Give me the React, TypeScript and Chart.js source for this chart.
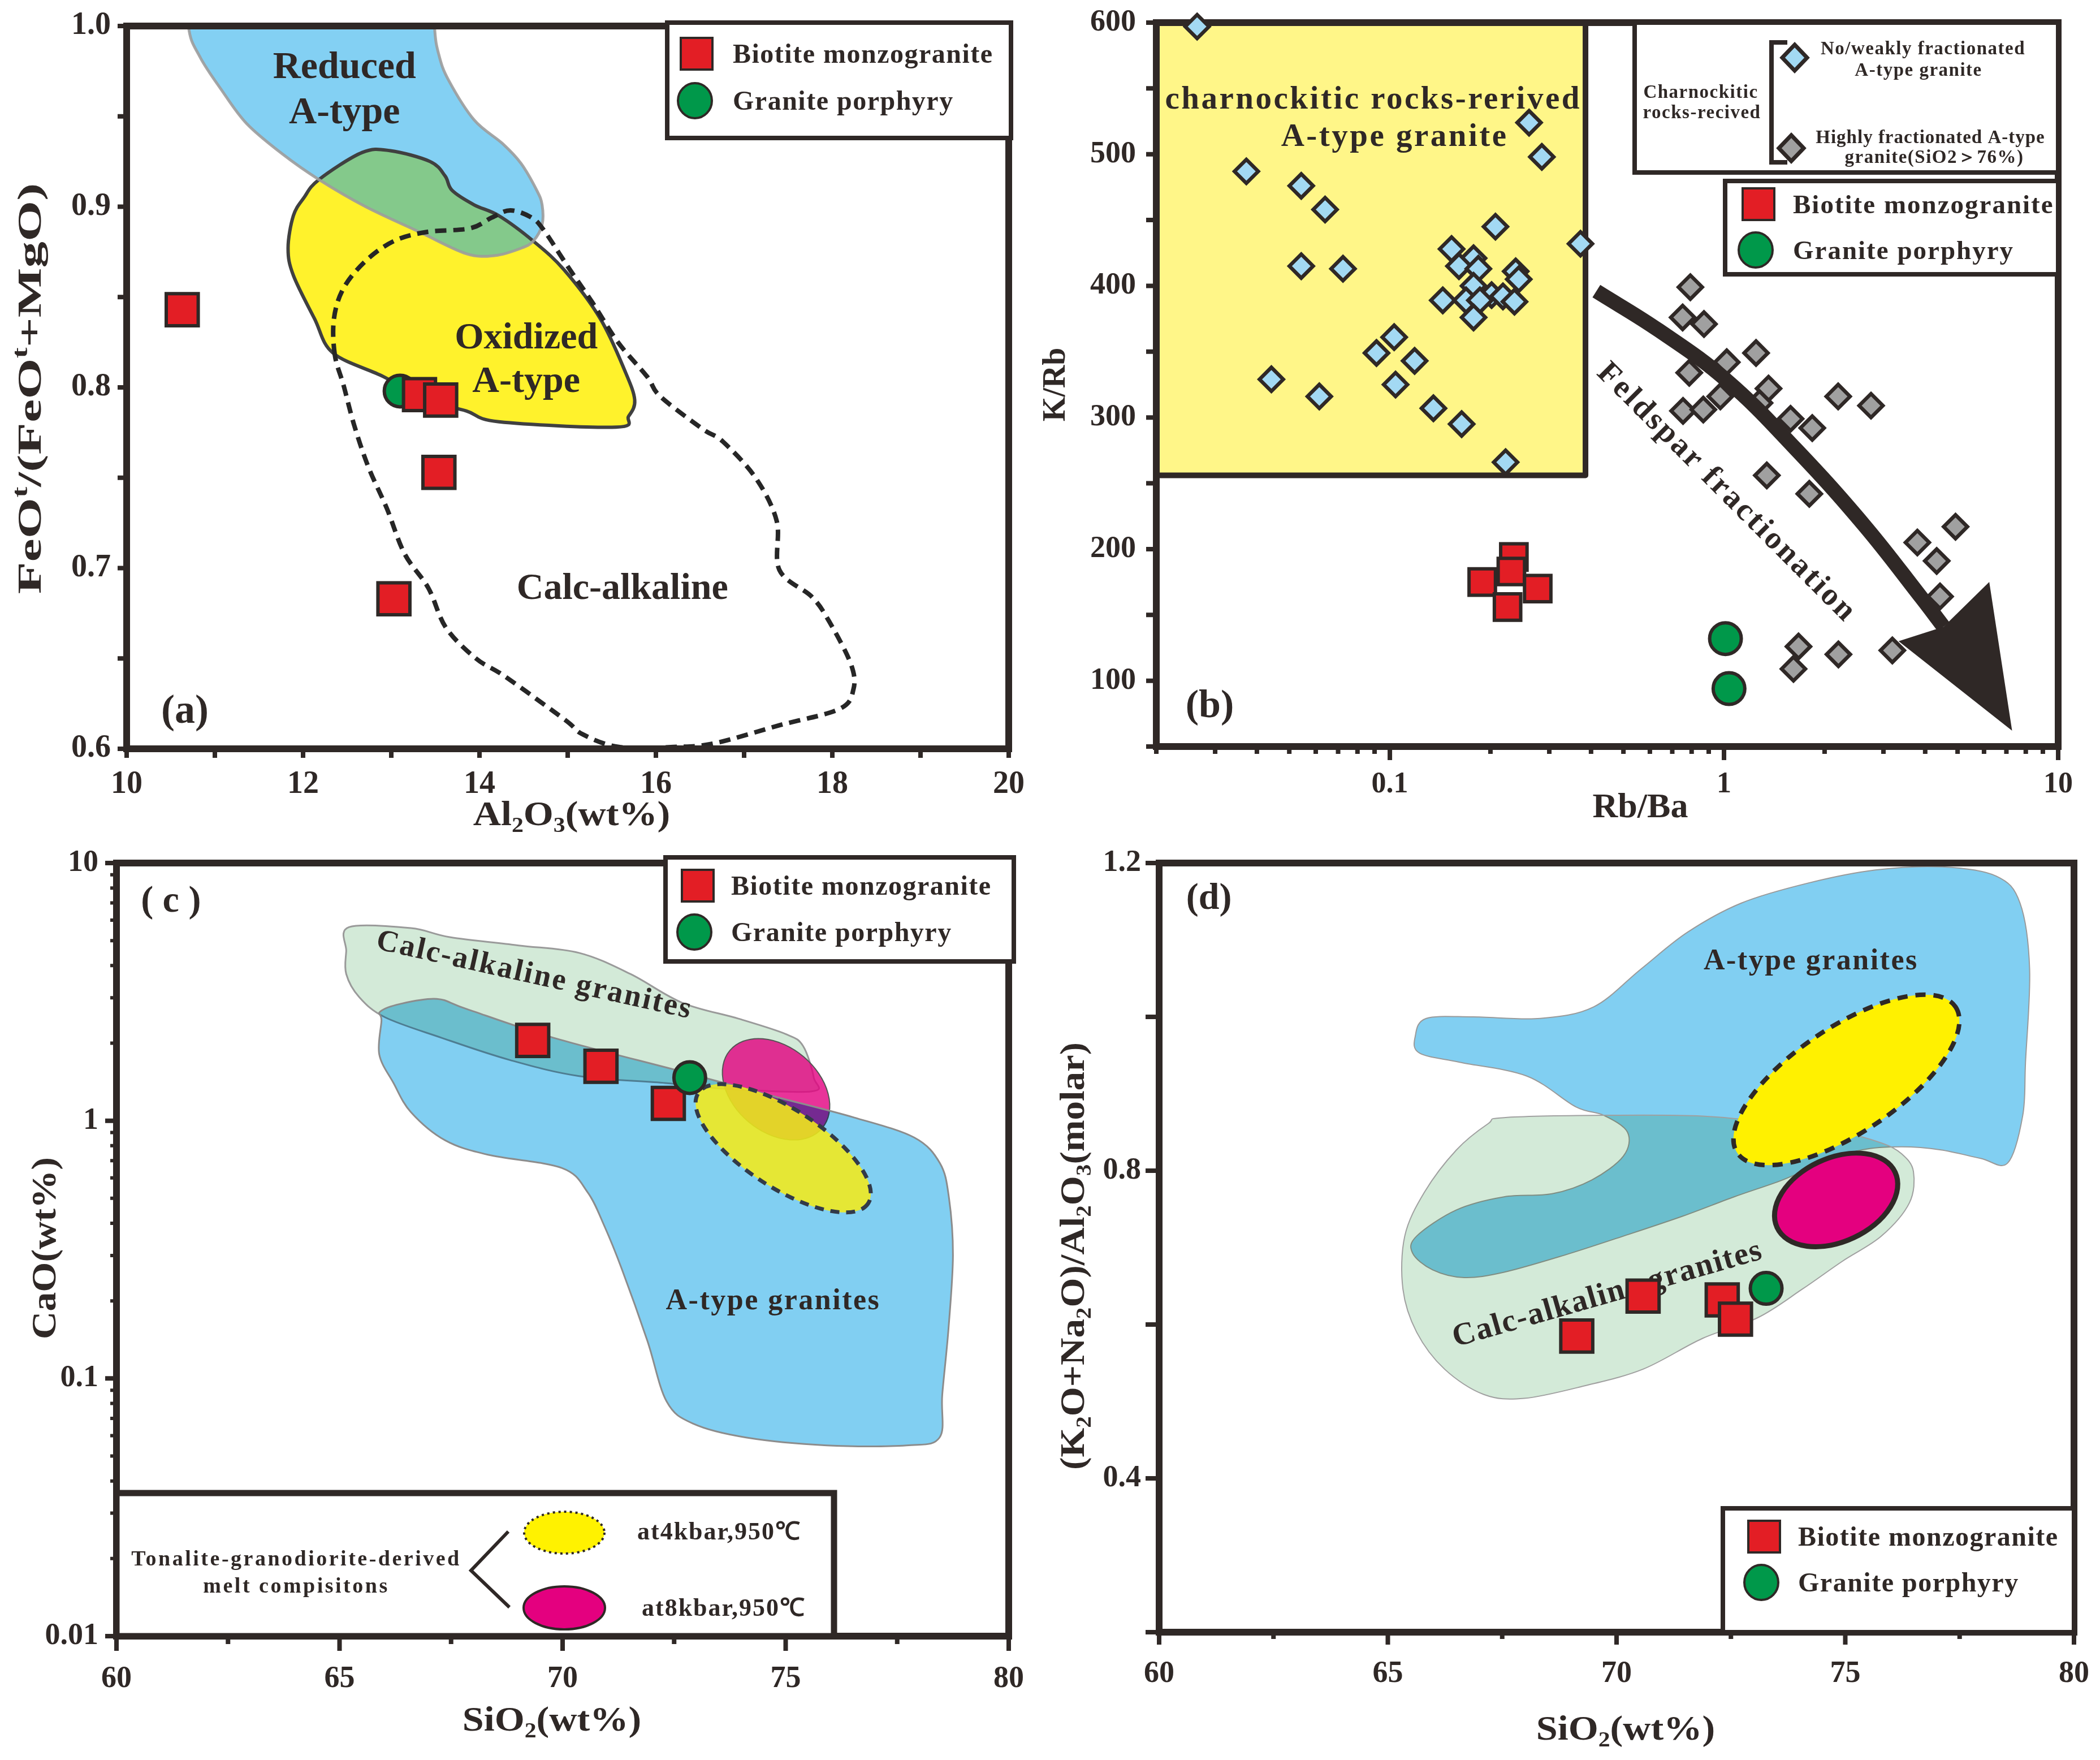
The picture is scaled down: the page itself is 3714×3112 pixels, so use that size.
import React, { useEffect, useRef } from 'react';
import { Chart, registerables } from 'chart.js';

Chart.register(...registerables);

type P = [number, number];

const FONT = "'Liberation Serif', 'Times New Roman', serif";
const INK = '#2f2826';
const RED = '#e31e25';
const GREEN = '#00984a';
const BLUE_FIELD = '#81cff2';
const GREEN_FIELD = '#d3ead8';

// ================= (a) FeOt/(FeOt+MgO) vs Al2O3 =================
const A_X_LABELS = [10, 12, 14, 16, 18, 20];
const A_Y_LABELS = [0.6, 0.7, 0.8, 0.9, 1.0];
const A_X_TICKS = [10, 11, 12, 13, 14, 15, 16, 17, 18, 19, 20];
const A_Y_TICKS = [0.6, 0.65, 0.7, 0.75, 0.8, 0.85, 0.9, 0.95, 1.0];
const A_BIOTITE_X = [10.63, 13.32, 13.56, 13.54, 13.03];
const A_BIOTITE_Y = [0.843, 0.796, 0.793, 0.753, 0.683];
const A_PORPHYRY_X = [13.1];
const A_PORPHYRY_Y = [0.798];
const A_REDUCED_FIELD: P[] = [
  [10.68, 1.04], [10.7, 1.0], [10.83, 0.983], [11.07, 0.965], [11.36, 0.946], [11.77, 0.929],
  [12.18, 0.915], [12.71, 0.9], [13.32, 0.886], [13.85, 0.874], [14.18, 0.873], [14.47, 0.877],
  [14.61, 0.881], [14.71, 0.89], [14.71, 0.901], [14.65, 0.909], [14.47, 0.924], [14.26, 0.935],
  [13.94, 0.948], [13.65, 0.97], [13.54, 0.984], [13.49, 1.0], [13.47, 1.04],
];
const A_OXIDIZED_FIELD: P[] = [
  [12.18, 0.915], [12.67, 0.93], [12.99, 0.931], [13.44, 0.925], [13.61, 0.917], [13.69, 0.909],
  [13.94, 0.901], [14.22, 0.895], [14.61, 0.881], [14.96, 0.865], [15.37, 0.838], [15.65, 0.809],
  [15.76, 0.793], [15.69, 0.784], [15.55, 0.778], [14.22, 0.781], [13.85, 0.787], [13.4, 0.793],
  [12.91, 0.806], [12.34, 0.819], [12.13, 0.838], [11.89, 0.862], [11.83, 0.877], [11.89, 0.895],
  [12.01, 0.905],
];
const A_CALC_FIELD: P[] = [
  [12.36, 0.818], [12.35, 0.838], [12.46, 0.855], [12.71, 0.87], [13.03, 0.881], [13.4, 0.886],
  [13.89, 0.888], [14.14, 0.894], [14.35, 0.898], [14.59, 0.894], [14.73, 0.887], [15.0, 0.867],
  [15.28, 0.847], [15.57, 0.825], [15.9, 0.806], [16.05, 0.795], [16.53, 0.777], [16.76, 0.77],
  [17.13, 0.75], [17.37, 0.726], [17.4, 0.699], [17.77, 0.684], [17.97, 0.67], [18.21, 0.647],
  [18.24, 0.633], [18.08, 0.622], [17.4, 0.613], [16.66, 0.603], [16.2, 0.601], [15.58, 0.601],
  [15.17, 0.608], [14.97, 0.616], [14.29, 0.64], [13.96, 0.65], [13.62, 0.667], [13.42, 0.689],
  [13.15, 0.708], [12.95, 0.733], [12.74, 0.756], [12.58, 0.779], [12.46, 0.801],
];

// ================= (b) K/Rb vs Rb/Ba =================
const B_X_LABELS = [0.1, 1, 10];
const B_Y_LABELS = [100, 200, 300, 400, 500, 600];
const B_X_TICKS_MAJOR = [0.1, 1, 10];
const B_X_TICKS_MINOR = [0.02, 0.03, 0.04, 0.05, 0.06, 0.07, 0.08, 0.09, 0.2, 0.3, 0.4, 0.5, 0.6, 0.7, 0.8, 0.9, 2, 3, 4, 5, 6, 7, 8, 9];
const B_Y_TICKS = [50, 100, 150, 200, 250, 300, 350, 400, 450, 500, 550, 600];
const B_WEAK_X = [0.0265, 0.0372, 0.0543, 0.064, 0.0543, 0.0724, 0.0442, 0.0615, 0.103, 0.0912, 0.1186, 0.104, 0.135, 0.164, 0.222, 0.261, 0.285, 0.207, 0.372, 0.153, 0.178, 0.161, 0.184, 0.238, 0.243, 0.178, 0.2016, 0.218, 0.144, 0.169, 0.236, 0.186, 0.178];
const B_WEAK_Y = [597, 487, 476, 458, 415, 413, 329, 316, 361, 349, 343, 325, 307, 295, 266, 524, 498, 445, 432, 428, 421, 415, 413, 411, 405, 400, 393, 392, 389, 389, 388, 389, 376];
const B_HIGH_X = [0.793, 0.752, 0.871, 1.247, 1.019, 0.787, 1.359, 0.975, 1.277, 2.196, 2.754, 0.754, 0.867, 1.582, 1.837, 1.343, 1.8, 4.93, 3.79, 4.33, 4.43, 1.671, 2.2, 3.19, 1.614];
const B_HIGH_Y = [399, 376, 371, 349, 342, 334, 322, 316, 311, 316, 309, 305, 306, 299, 292, 256, 242, 217, 205, 191, 164, 126, 120, 123, 109];
const B_BIOTITE_X = [0.235, 0.231, 0.189, 0.277, 0.225];
const B_BIOTITE_Y = [194, 183, 175, 170, 156];
const B_PORPHYRY_X = [1.01, 1.035];
const B_PORPHYRY_Y = [132, 94];
const B_CHARNO_FIELD: P[] = [[0.02, 600], [0.385, 600], [0.385, 256], [0.02, 256]];
const B_ARROW_X = [0.415, 0.64, 1.02, 1.64, 2.63, 3.9, 4.54];
const B_ARROW_Y = [396, 366, 328, 276, 218, 163, 141];
const B_ARROW_HEAD: P[] = [[3.33, 130], [4.54, 141], [6.22, 175], [7.28, 62]];

// ================= (c) CaO vs SiO2 =================
const C_X_LABELS = [60, 65, 70, 75, 80];
const C_Y_LABELS = [0.01, 0.1, 1, 10];
const C_X_TICKS_MAJOR = [60, 65, 70, 75, 80];
const C_X_TICKS_MINOR = [62.5, 67.5, 72.5, 77.5];
const C_Y_TICKS_MAJOR = [0.01, 0.1, 1, 10];
const C_Y_TICKS_MINOR = [0.02, 0.03, 0.04, 0.05, 0.06, 0.07, 0.08, 0.09, 0.2, 0.3, 0.4, 0.5, 0.6, 0.7, 0.8, 0.9, 2, 3, 4, 5, 6, 7, 8, 9];
const C_BIOTITE_X = [69.33, 70.86, 72.37];
const C_BIOTITE_Y = [2.05, 1.627, 1.168];
const C_PORPHYRY_X = [72.85];
const C_PORPHYRY_Y = [1.47];
const C_CALC_FIELD: P[] = [
  [65.21, 5.64], [66.6, 5.59], [67.47, 5.16], [69.01, 4.79], [70.37, 4.48], [71.52, 3.71],
  [72.68, 2.87], [73.94, 2.49], [75.0, 2.17], [75.39, 1.95], [75.63, 1.47], [75.58, 1.3],
  [73.65, 1.33], [72.3, 1.4], [70.37, 1.49], [68.82, 1.72], [67.28, 2.1], [66.02, 2.52],
  [65.44, 3.02], [65.15, 3.71], [65.15, 4.55],
];
const C_ATYPE_FIELD: P[] = [
  [65.94, 2.45], [65.91, 2.65], [66.36, 2.84], [67.18, 2.97], [67.86, 2.71], [69.79, 2.1],
  [72.68, 1.55], [74.61, 1.26], [76.53, 1.03], [77.88, 0.861], [78.46, 0.683], [78.66, 0.503],
  [78.75, 0.301], [78.65, 0.156], [78.51, 0.0865], [78.45, 0.059], [77.71, 0.055], [75.92, 0.055],
  [74.11, 0.059], [72.93, 0.0667], [72.33, 0.0815], [71.9, 0.14], [71.33, 0.265], [70.94, 0.389],
  [70.56, 0.528], [69.98, 0.656], [68.34, 0.737], [67.37, 0.839], [66.6, 1.08], [66.21, 1.4],
  [65.89, 1.81],
];
// ellipse = two ends of the major axis + one end of the minor axis
const C_MELT_8KBAR: P[] = [[73.75, 1.873], [75.82, 0.937], [74.17, 0.99]];
const C_MELT_4KBAR: P[] = [[73.04, 1.279], [76.85, 0.478], [74.47, 0.582]];

// ================= (d) (K2O+Na2O)/Al2O3 vs SiO2 =================
const D_X_LABELS = [60, 65, 70, 75, 80];
const D_Y_LABELS = [0.4, 0.8, 1.2];
const D_X_TICKS_MAJOR = [60, 65, 70, 75, 80];
const D_X_TICKS_MINOR = [62.5, 67.5, 72.5, 77.5];
const D_Y_TICKS = [0.2, 0.4, 0.6, 0.8, 1.0, 1.2];
const D_BIOTITE_X = [69.13, 70.58, 72.31, 72.6];
const D_BIOTITE_Y = [0.585, 0.637, 0.632, 0.607];
const D_PORPHYRY_X = [73.27];
const D_PORPHYRY_Y = [0.647];
const D_ATYPE_FIELD: P[] = [
  [65.6, 0.975], [65.84, 0.998], [66.86, 1.0], [68.33, 0.998], [69.5, 1.013], [70.53, 1.062],
  [71.55, 1.11], [72.73, 1.148], [74.19, 1.174], [75.66, 1.191], [77.12, 1.195], [78.3, 1.183],
  [78.82, 1.148], [79.03, 1.062], [78.94, 0.941], [78.88, 0.872], [78.55, 0.81], [77.96, 0.816],
  [77.09, 0.827], [76.23, 0.831], [75.36, 0.827], [74.49, 0.81], [73.63, 0.788], [72.57, 0.766],
  [71.45, 0.741], [70.15, 0.715], [68.85, 0.69], [67.54, 0.668], [66.67, 0.661], [65.98, 0.671],
  [65.54, 0.693], [65.63, 0.715], [66.5, 0.749], [67.54, 0.766], [68.59, 0.77], [69.46, 0.788],
  [70.15, 0.819], [70.24, 0.85], [69.72, 0.872], [69.11, 0.883], [68.04, 0.923], [66.57, 0.941],
  [65.69, 0.953],
];
const D_CALC_FIELD: P[] = [
  [67.19, 0.861], [67.54, 0.869], [69.72, 0.872], [71.88, 0.871], [73.63, 0.861], [74.93, 0.85],
  [75.79, 0.836], [76.23, 0.822], [76.49, 0.799], [76.4, 0.758], [75.79, 0.715], [74.93, 0.682],
  [74.06, 0.646], [73.09, 0.609], [71.88, 0.582], [70.58, 0.542], [69.28, 0.52], [67.98, 0.504],
  [67.1, 0.509], [66.24, 0.542], [65.63, 0.59], [65.33, 0.646], [65.37, 0.715], [65.8, 0.772],
  [66.5, 0.827],
];
const D_MELT_4KBAR: P[] = [[72.64, 0.823], [77.41, 1.013], [75.67, 0.861]];
const D_MELT_8KBAR: P[] = [[73.51, 0.726], [76.09, 0.798], [75.19, 0.713]];

// ================= drawing helpers =================
function toPx(chart: any, p: P): [number, number] {
  return [chart.scales.x.getPixelForValue(p[0]), chart.scales.y.getPixelForValue(p[1])];
}

function tracePath(ctx: CanvasRenderingContext2D, p: number[][], s: number) {
  const n = p.length;
  ctx.moveTo(p[0][0], p[0][1]);
  for (let i = 0; i < n; i++) {
    const p0 = p[(i - 1 + n) % n], p1 = p[i], p2 = p[(i + 1) % n], p3 = p[(i + 2) % n];
    if (s <= 0) { ctx.lineTo(p2[0], p2[1]); continue; }
    const c1x = p1[0] + ((p2[0] - p0[0]) * s) / 6, c1y = p1[1] + ((p2[1] - p0[1]) * s) / 6;
    const c2x = p2[0] - ((p3[0] - p1[0]) * s) / 6, c2y = p2[1] - ((p3[1] - p1[1]) * s) / 6;
    ctx.bezierCurveTo(c1x, c1y, c2x, c2y, p2[0], p2[1]);
  }
  ctx.closePath();
}

function drawRegion(chart: any, it: any) {
  const ctx = chart.ctx as CanvasRenderingContext2D;
  const s = it.smooth ?? 1;
  ctx.save();
  if (it.clipTo) {
    ctx.beginPath();
    tracePath(ctx, it.clipTo.map((q: P) => toPx(chart, q)), s);
    ctx.clip();
  }
  ctx.beginPath();
  tracePath(ctx, it.pts.map((q: P) => toPx(chart, q)), s);
  if (it.fill) {
    ctx.globalAlpha = it.alpha ?? 1;
    ctx.globalCompositeOperation = it.op ?? 'source-over';
    ctx.fillStyle = it.fill;
    ctx.fill();
    ctx.globalAlpha = 1;
    ctx.globalCompositeOperation = 'source-over';
  }
  if (it.stroke) {
    ctx.globalAlpha = it.strokeAlpha ?? 1;
    ctx.setLineDash(it.dash ?? []);
    ctx.lineWidth = it.lw ?? 3;
    ctx.lineJoin = 'round';
    ctx.strokeStyle = it.stroke;
    ctx.stroke();
  }
  ctx.restore();
}

function drawEllipse(chart: any, it: any) {
  const ctx = chart.ctx as CanvasRenderingContext2D;
  const [x1, y1] = toPx(chart, it.e[0]);
  const [x2, y2] = toPx(chart, it.e[1]);
  const [bx, by] = toPx(chart, it.e[2]);
  const cx = (x1 + x2) / 2, cy = (y1 + y2) / 2;
  const rx = Math.hypot(x2 - x1, y2 - y1) / 2;
  const ry = Math.hypot(bx - cx, by - cy);
  const rot = Math.atan2(y2 - y1, x2 - x1);
  ctx.save();
  ctx.beginPath();
  ctx.ellipse(cx, cy, rx, ry, rot, 0, Math.PI * 2);
  if (it.fill) {
    ctx.globalAlpha = it.alpha ?? 1;
    ctx.fillStyle = it.fill;
    ctx.fill();
    ctx.globalAlpha = 1;
  }
  if (it.stroke) {
    ctx.setLineDash(it.dash ?? []);
    ctx.lineWidth = it.lw ?? 3;
    ctx.strokeStyle = it.stroke;
    ctx.stroke();
  }
  ctx.restore();
}

function parseRich(s: string) {
  const out: { t: string; k: string }[] = [];
  const re = /([_^])\{([^}]*)\}/g;
  let last = 0;
  let m: RegExpExecArray | null;
  while ((m = re.exec(s))) {
    if (m.index > last) out.push({ t: s.slice(last, m.index), k: 'n' });
    out.push({ t: m[2], k: m[1] === '_' ? 'sub' : 'sup' });
    last = re.lastIndex;
  }
  if (last < s.length) out.push({ t: s.slice(last), k: 'n' });
  return out;
}

function drawText(chart: any, spec: any, t: any) {
  const ctx = chart.ctx as CanvasRenderingContext2D;
  let x: number, y: number;
  if (t.data) [x, y] = toPx(chart, [t.x, t.y]);
  else { x = t.x - spec.ox; y = t.y - spec.oy; }
  ctx.save();
  ctx.translate(x, y);
  if (t.rot) ctx.rotate((t.rot * Math.PI) / 180);
  if (t.sx) ctx.scale(t.sx, 1);
  const segs = parseRich(t.t);
  const w = t.weight ?? 'bold';
  (ctx as any).letterSpacing = `${t.spacing ?? 0}px`;
  const fontFor = (k: string) => `${w} ${k === 'n' ? t.size : Math.round(t.size * 0.62)}px ${FONT}`;
  const widths = segs.map((sg) => { ctx.font = fontFor(sg.k); return ctx.measureText(sg.t).width; });
  const total = widths.reduce((a, b) => a + b, 0);
  let cx = t.align === 'left' ? 0 : t.align === 'right' ? -total : -total / 2;
  ctx.fillStyle = t.color ?? INK;
  ctx.textAlign = 'left';
  ctx.textBaseline = 'alphabetic';
  const base = t.size * 0.34;
  segs.forEach((sg, i) => {
    ctx.font = fontFor(sg.k);
    const dy = sg.k === 'sub' ? t.size * 0.2 : sg.k === 'sup' ? -t.size * 0.4 : 0;
    ctx.fillText(sg.t, cx, base + dy);
    cx += widths[i];
  });
  ctx.restore();
}

function drawMark(ctx: CanvasRenderingContext2D, m: any, ox: number, oy: number) {
  const x = m.x - ox, y = m.y - oy;
  ctx.save();
  ctx.beginPath();
  if (m.shape === 'square') ctx.rect(x - m.rx, y - m.ry, 2 * m.rx, 2 * m.ry);
  else if (m.shape === 'diamond') {
    ctx.moveTo(x, y - m.ry); ctx.lineTo(x + m.rx, y); ctx.lineTo(x, y + m.ry); ctx.lineTo(x - m.rx, y); ctx.closePath();
  } else ctx.ellipse(x, y, m.rx, m.ry, 0, 0, Math.PI * 2);
  ctx.fillStyle = m.fill;
  ctx.fill();
  ctx.setLineDash(m.dash ?? []);
  ctx.lineWidth = m.lw ?? 4;
  ctx.strokeStyle = m.stroke ?? INK;
  ctx.stroke();
  ctx.restore();
}

function drawLegend(chart: any, spec: any, L: any) {
  const ctx = chart.ctx as CanvasRenderingContext2D;
  const ox = spec.ox, oy = spec.oy;
  ctx.save();
  if (L.box) {
    const [x1, y1, x2, y2] = L.box;
    ctx.fillStyle = '#ffffff';
    ctx.fillRect(x1 - ox, y1 - oy, x2 - x1, y2 - y1);
    ctx.strokeStyle = INK;
    ctx.lineWidth = L.lw ?? 8;
    ctx.strokeRect(x1 - ox, y1 - oy, x2 - x1, y2 - y1);
  }
  (L.lines ?? []).forEach((ln: any) => {
    ctx.beginPath();
    ln.pts.forEach(([x, y]: P, i: number) => (i ? ctx.lineTo(x - ox, y - oy) : ctx.moveTo(x - ox, y - oy)));
    ctx.lineWidth = ln.lw;
    ctx.strokeStyle = INK;
    ctx.lineJoin = 'miter';
    ctx.stroke();
  });
  (L.marks ?? []).forEach((m: any) => drawMark(ctx, m, ox, oy));
  ctx.restore();
  (L.texts ?? []).forEach((t: any) => drawText(chart, spec, t));
}

function drawItem(chart: any, spec: any, it: any) {
  if (it.kind === 'region') drawRegion(chart, it);
  else if (it.kind === 'ellipse') drawEllipse(chart, it);
  else if (it.kind === 'text') drawText(chart, spec, it);
  else if (it.kind === 'legend') drawLegend(chart, spec, it);
}

function drawFrame(chart: any, spec: any) {
  const ctx = chart.ctx as CanvasRenderingContext2D;
  const a = chart.chartArea;
  ctx.save();
  ctx.strokeStyle = INK;
  ctx.lineCap = 'butt';
  spec.ticks.forEach((tk: any) => {
    const sc = chart.scales[tk.axis];
    ctx.lineWidth = tk.lw ?? 8;
    ctx.beginPath();
    tk.values.forEach((v: number) => {
      const p = sc.getPixelForValue(v);
      if (tk.axis === 'x') { ctx.moveTo(p, a.bottom); ctx.lineTo(p, a.bottom + tk.len); }
      else { ctx.moveTo(a.left, p); ctx.lineTo(a.left - tk.len, p); }
    });
    ctx.stroke();
  });
  ctx.lineWidth = 12;
  ctx.strokeRect(a.left, a.top, a.right - a.left, a.bottom - a.top);
  ctx.restore();
}

function makeDecor(spec: any) {
  return {
    id: 'decor',
    beforeDatasetsDraw(chart: any) {
      const ctx = chart.ctx as CanvasRenderingContext2D;
      const a = chart.chartArea;
      ctx.save();
      ctx.beginPath();
      ctx.rect(a.left, a.top, a.right - a.left, a.bottom - a.top);
      ctx.clip();
      spec.under.forEach((it: any) => drawItem(chart, spec, it));
      ctx.restore();
      drawFrame(chart, spec);
      spec.titles.forEach((t: any) => drawText(chart, spec, t));
    },
    afterDatasetsDraw(chart: any) {
      spec.over.forEach((it: any) => drawItem(chart, spec, it));
    },
  };
}

function xy(xs: number[], ys: number[]) {
  return xs.map((x, i) => ({ x, y: ys[i] }));
}

function markerSet(label: string, xs: number[], ys: number[], style: string, r: number, fill: string, bw = 6) {
  return {
    label,
    data: xy(xs, ys),
    pointStyle: style,
    pointRadius: r,
    pointHoverRadius: r,
    pointBackgroundColor: fill,
    pointBorderColor: INK,
    pointBorderWidth: bw,
    backgroundColor: fill,
    borderColor: INK,
    showLine: false,
    clip: false,
  };
}

function axisOpts(a: any, horizontal: boolean) {
  return {
    type: a.type,
    min: a.min,
    max: a.max,
    bounds: 'data',
    afterBuildTicks: (s: any) => { s.ticks = a.labels.map((v: number) => ({ value: v })); },
    afterFit: (s: any) => {
      if (horizontal) s.height = a.size; else s.width = a.size;
      s.paddingLeft = 0; s.paddingRight = 0; s.paddingTop = 0; s.paddingBottom = 0;
    },
    grid: { display: false, drawTicks: false },
    border: { display: false },
    ticks: {
      autoSkip: false,
      maxRotation: 0,
      minRotation: 0,
      padding: a.pad,
      color: INK,
      font: { family: FONT, size: a.font, weight: 'bold' },
      callback: (v: any) => a.fmt(Number(v)),
    },
  };
}

const legendPair = (box: number[], sq: P, cir: P, tx: number, size: number, spacing: number, lw = 8) => ({
  kind: 'legend',
  box,
  lw,
  marks: [
    { shape: 'square', x: sq[0], y: sq[1], rx: 28, ry: 28, fill: RED, lw: 4 },
    { shape: 'circle', x: cir[0], y: cir[1], rx: 30, ry: 31, fill: GREEN, lw: 4 },
  ],
  texts: [
    { t: 'Biotite monzogranite', x: tx, y: sq[1], size, spacing, align: 'left' },
    { t: 'Granite porphyry', x: tx, y: cir[1], size, spacing, align: 'left' },
  ],
});

// ================= panel specs =================
const SPEC_A = {
  id: 'a', ox: 0, oy: 0, w: 1830, h: 1480,
  padding: { left: 0, top: 41, right: 46, bottom: 56 },
  x: { type: 'linear', min: 10, max: 20, labels: A_X_LABELS, size: 100, pad: 30, font: 56, fmt: (v: number) => String(v) },
  y: { type: 'linear', min: 0.6, max: 1.0, labels: A_Y_LABELS, size: 224, pad: 28, font: 56, fmt: (v: number) => v.toFixed(1) },
  datasets: [
    markerSet('Biotite monzogranite', A_BIOTITE_X, A_BIOTITE_Y, 'rect', 40, RED),
    markerSet('Granite porphyry', A_PORPHYRY_X, A_PORPHYRY_Y, 'circle', 28, GREEN),
  ],
  ticks: [
    { axis: 'x', values: A_X_TICKS, len: 16 },
    { axis: 'y', values: A_Y_TICKS, len: 16 },
  ],
  under: [
    { kind: 'region', pts: A_REDUCED_FIELD, fill: '#83d0f3' },
    { kind: 'region', pts: A_OXIDIZED_FIELD, fill: '#fff22c' },
    { kind: 'region', pts: A_REDUCED_FIELD, clipTo: A_OXIDIZED_FIELD, fill: '#84c98b' },
    { kind: 'region', pts: A_OXIDIZED_FIELD, stroke: '#404040', lw: 6 },
    { kind: 'region', pts: A_REDUCED_FIELD, stroke: '#9c9c9c', lw: 5, strokeAlpha: 0.9 },
    { kind: 'region', pts: A_CALC_FIELD, stroke: '#262626', lw: 8, dash: [20, 12] },
    { kind: 'text', t: 'Reduced', x: 12.47, y: 0.9785, data: true, size: 68 },
    { kind: 'text', t: 'A-type', x: 12.47, y: 0.9535, data: true, size: 68 },
    { kind: 'text', t: 'Oxidized', x: 14.53, y: 0.8285, data: true, size: 66 },
    { kind: 'text', t: 'A-type', x: 14.53, y: 0.8045, data: true, size: 66 },
    { kind: 'text', t: 'Calc-alkaline', x: 15.62, y: 0.69, data: true, size: 66 },
    { kind: 'text', t: '(a)', x: 10.66, y: 0.622, data: true, size: 72 },
  ],
  titles: [
    { t: 'Al_{2}O_{3}(wt%)', x: 1011, y: 1438, size: 62, sx: 1.1 },
    { t: 'FeO^{t}/(FeO^{t}+MgO)', x: 52, y: 687, size: 60, rot: -90, sx: 1.55 },
  ],
  over: [legendPair([1180, 40, 1788, 244], [1232, 95], [1229, 178], 1296, 48, 1.5)],
};

const SPEC_B = {
  id: 'b', ox: 1830, oy: 0, w: 1884, h: 1480,
  padding: { left: 0, top: 40, right: 74, bottom: 60 },
  x: { type: 'logarithmic', min: 0.02, max: 10, labels: B_X_LABELS, size: 100, pad: 36, font: 52, fmt: (v: number) => (v < 1 ? v.toFixed(1) : String(v)) },
  y: { type: 'linear', min: 50, max: 600, labels: B_Y_LABELS, size: 215, pad: 36, font: 54, fmt: (v: number) => String(v) },
  datasets: [
    markerSet('Granite porphyry', B_PORPHYRY_X, B_PORPHYRY_Y, 'circle', 28, GREEN),
    markerSet('Biotite monzogranite', B_BIOTITE_X, B_BIOTITE_Y, 'rect', 33, RED),
    {
      label: 'Feldspar fractionation',
      data: xy(B_ARROW_X, B_ARROW_Y),
      showLine: true,
      pointRadius: 0,
      borderColor: INK,
      borderWidth: 26,
      tension: 0.4,
      fill: false,
      clip: false,
    },
    markerSet('Highly fractionated A-type granite', B_HIGH_X, B_HIGH_Y, 'rectRot', 21, '#a0a0a0', 6.5),
    markerSet('No/weakly fractionated A-type granite', B_WEAK_X, B_WEAK_Y, 'rectRot', 21, '#a3d9f3', 6.5),
  ],
  ticks: [
    { axis: 'x', values: B_X_TICKS_MAJOR, len: 24 },
    { axis: 'x', values: B_X_TICKS_MINOR, len: 13 },
    { axis: 'y', values: B_Y_TICKS, len: 18 },
  ],
  under: [
    { kind: 'region', pts: B_CHARNO_FIELD, fill: '#fff688', smooth: 0 },
    { kind: 'text', t: 'charnockitic rocks-rerived', x: 0.0892, y: 543, data: true, size: 57, spacing: 3.5 },
    { kind: 'text', t: 'A-type granite', x: 0.1034, y: 514.5, data: true, size: 57, spacing: 3.5 },
    { kind: 'region', pts: B_CHARNO_FIELD, stroke: INK, lw: 10, smooth: 0 },
    { kind: 'text', t: '(b)', x: 0.0289, y: 82.6, data: true, size: 70 },
  ],
  titles: [
    { t: 'K/Rb', x: 1864, y: 680, size: 56, rot: -90 },
    { t: 'Rb/Ba', x: 2901, y: 1424, size: 62 },
  ],
  over: [
    { kind: 'region', pts: B_ARROW_HEAD, fill: INK, smooth: 0 },
    { kind: 'text', t: 'Feldspar fractionation', x: 1.03, y: 244, data: true, size: 56, rot: 45, spacing: 4 },
    {
      kind: 'legend',
      box: [2891, 40, 3640, 305],
      lw: 8,
      lines: [{ pts: [[3161, 75], [3133, 75], [3133, 287], [3161, 287]], lw: 8 }],
      marks: [
        { shape: 'diamond', x: 3174, y: 102, rx: 22, ry: 23, fill: '#a3d9f3', lw: 7 },
        { shape: 'diamond', x: 3168, y: 262, rx: 22, ry: 23, fill: '#a0a0a0', lw: 7 },
      ],
      texts: [
        { t: 'Charnockitic', x: 3008, y: 162, size: 33, spacing: 1.5 },
        { t: 'rocks-recived', x: 3010, y: 198, size: 33, spacing: 1.5 },
        { t: 'No/weakly fractionated', x: 3401, y: 85, size: 33, spacing: 1.5 },
        { t: 'A-type granite', x: 3393, y: 123, size: 33, spacing: 1.5 },
        { t: 'Highly fractionated A-type', x: 3414, y: 242, size: 33, spacing: 1.0 },
        { t: 'granite(SiO2＞76%)', x: 3421, y: 277, size: 33, spacing: 1.5 },
      ],
    },
    legendPair([3051, 320, 3640, 485], [3110, 361], [3105, 442], 3171, 47, 2),
  ],
};

const SPEC_C = {
  id: 'c', ox: 0, oy: 1480, w: 1830, h: 1632,
  padding: { left: 0, top: 36, right: 37, bottom: 119 },
  x: { type: 'linear', min: 60, max: 80, labels: C_X_LABELS, size: 100, pad: 44, font: 54, fmt: (v: number) => String(v) },
  y: { type: 'logarithmic', min: 0.01, max: 10, labels: C_Y_LABELS, size: 206, pad: 32, font: 54, fmt: (v: number) => String(v) },
  datasets: [
    markerSet('Granite porphyry', C_PORPHYRY_X, C_PORPHYRY_Y, 'circle', 28, GREEN),
    markerSet('Biotite monzogranite', C_BIOTITE_X, C_BIOTITE_Y, 'rect', 40, RED),
  ],
  ticks: [
    { axis: 'x', values: C_X_TICKS_MAJOR, len: 26 },
    { axis: 'x', values: C_X_TICKS_MINOR, len: 14 },
    { axis: 'y', values: C_Y_TICKS_MAJOR, len: 20 },
    { axis: 'y', values: C_Y_TICKS_MINOR, len: 11, lw: 6 },
  ],
  under: [
    { kind: 'region', pts: C_CALC_FIELD, fill: GREEN_FIELD, stroke: '#9a9a9a', lw: 3 },
    { kind: 'ellipse', e: C_MELT_8KBAR, fill: '#e2007f', alpha: 0.8, stroke: '#555', lw: 2 },
    { kind: 'region', pts: C_ATYPE_FIELD, fill: BLUE_FIELD, op: 'multiply', stroke: '#8c8c8c', lw: 3 },
    { kind: 'ellipse', e: C_MELT_4KBAR, fill: '#f3ea1a', alpha: 0.88, stroke: '#333a48', lw: 7, dash: [16, 12] },
    { kind: 'text', t: 'Calc-alkaline granites', x: 69.38, y: 3.73, data: true, size: 54, rot: 12.5, spacing: 3 },
    { kind: 'text', t: 'A-type granites', x: 74.72, y: 0.2027, data: true, size: 52, spacing: 2.5 },
    { kind: 'text', t: '( c )', x: 61.22, y: 7.25, data: true, size: 66 },
  ],
  titles: [
    { t: 'SiO_{2}(wt%)', x: 976, y: 3039, size: 62, sx: 1.1 },
    { t: 'CaO(wt%)', x: 77, y: 2207, size: 62, rot: -90, sx: 1.1 },
  ],
  over: [
    legendPair([1177, 1516, 1793, 1700], [1234, 1566], [1228, 1648], 1293, 48, 1.5),
    {
      kind: 'legend',
      box: [206, 2640, 1475, 2893],
      lw: 11,
      lines: [{ pts: [[899, 2708], [833, 2777], [901, 2842]], lw: 6 }],
      marks: [
        { shape: 'ellipse', x: 998, y: 2710, rx: 71, ry: 37, fill: '#fff200', lw: 4, dash: [4, 6] },
        { shape: 'ellipse', x: 998, y: 2843, rx: 72, ry: 38, fill: '#e4007f', lw: 4 },
      ],
      texts: [
        { t: 'Tonalite-granodiorite-derived', x: 524, y: 2755, size: 38, spacing: 3.5 },
        { t: 'melt compisitons', x: 524, y: 2803, size: 38, spacing: 3.5 },
        { t: 'at4kbar,950℃', x: 1127, y: 2707, size: 44, spacing: 2, align: 'left' },
        { t: 'at8kbar,950℃', x: 1135, y: 2842, size: 44, spacing: 2, align: 'left' },
      ],
    },
  ],
};

const SPEC_D = {
  id: 'd', ox: 1830, oy: 1480, w: 1884, h: 1632,
  padding: { left: 0, top: 36, right: 46, bottom: 126 },
  x: { type: 'linear', min: 60, max: 80, labels: D_X_LABELS, size: 100, pad: 42, font: 54, fmt: (v: number) => String(v) },
  y: { type: 'linear', min: 0.2, max: 1.2, labels: D_Y_LABELS, size: 220, pad: 32, font: 54, fmt: (v: number) => v.toFixed(1) },
  datasets: [
    markerSet('Granite porphyry', D_PORPHYRY_X, D_PORPHYRY_Y, 'circle', 28, GREEN),
    markerSet('Biotite monzogranite', D_BIOTITE_X, D_BIOTITE_Y, 'rect', 40, RED),
  ],
  ticks: [
    { axis: 'x', values: D_X_TICKS_MAJOR, len: 22 },
    { axis: 'x', values: D_X_TICKS_MINOR, len: 12 },
    { axis: 'y', values: D_Y_TICKS, len: 24 },
  ],
  under: [
    { kind: 'region', pts: D_ATYPE_FIELD, fill: BLUE_FIELD, stroke: '#9a9a9a', lw: 2 },
    { kind: 'region', pts: D_CALC_FIELD, fill: GREEN_FIELD, op: 'multiply', stroke: '#a0a0a0', lw: 2 },
    { kind: 'ellipse', e: D_MELT_4KBAR, fill: '#fff100', stroke: INK, lw: 8, dash: [18, 14] },
    { kind: 'ellipse', e: D_MELT_8KBAR, fill: '#e4007f', stroke: INK, lw: 9 },
    { kind: 'text', t: 'A-type granites', x: 74.25, y: 1.075, data: true, size: 52, spacing: 2.5 },
    { kind: 'text', t: 'Calc-alkaline granites', x: 69.79, y: 0.642, data: true, size: 56, rot: -16, spacing: 2 },
    { kind: 'text', t: '(d)', x: 61.09, y: 1.157, data: true, size: 66 },
  ],
  titles: [
    { t: 'SiO_{2}(wt%)', x: 2875, y: 3055, size: 62, sx: 1.1 },
    { t: '(K_{2}O+Na_{2}O)/Al_{2}O_{3}(molar)', x: 1896, y: 2221, size: 62, rot: -90, sx: 1.08 },
  ],
  over: [legendPair([3047, 2667, 3668, 2886], [3120, 2717], [3115, 2798], 3180, 48, 1.5)],
};

const SPECS = [SPEC_A, SPEC_B, SPEC_C, SPEC_D];

function Panel({ spec }: { spec: any }) {
  const ref = useRef<HTMLCanvasElement>(null);
  useEffect(() => {
    const canvas = ref.current;
    if (!canvas) return;
    const chart = new Chart(canvas, {
      type: 'scatter',
      data: { datasets: spec.datasets },
      options: {
        animation: false,
        responsive: false,
        maintainAspectRatio: false,
        devicePixelRatio: 1,
        events: [],
        layout: { padding: spec.padding },
        plugins: { legend: { display: false }, tooltip: { enabled: false }, title: { display: false } },
        scales: { x: axisOpts(spec.x, true), y: axisOpts(spec.y, false) },
      } as any,
      plugins: [makeDecor(spec)],
    } as any);
    return () => chart.destroy();
  }, [spec]);
  return (
    <canvas
      ref={ref}
      width={spec.w}
      height={spec.h}
      style={{ position: 'absolute', left: spec.ox, top: spec.oy, width: spec.w, height: spec.h }}
    />
  );
}

export default function App() {
  return (
    <div style={{ position: 'absolute', left: 0, top: 0, width: 3714, height: 3112, background: '#ffffff', overflow: 'hidden' }}>
      {SPECS.map((s) => (
        <Panel key={s.id} spec={s} />
      ))}
    </div>
  );
}
